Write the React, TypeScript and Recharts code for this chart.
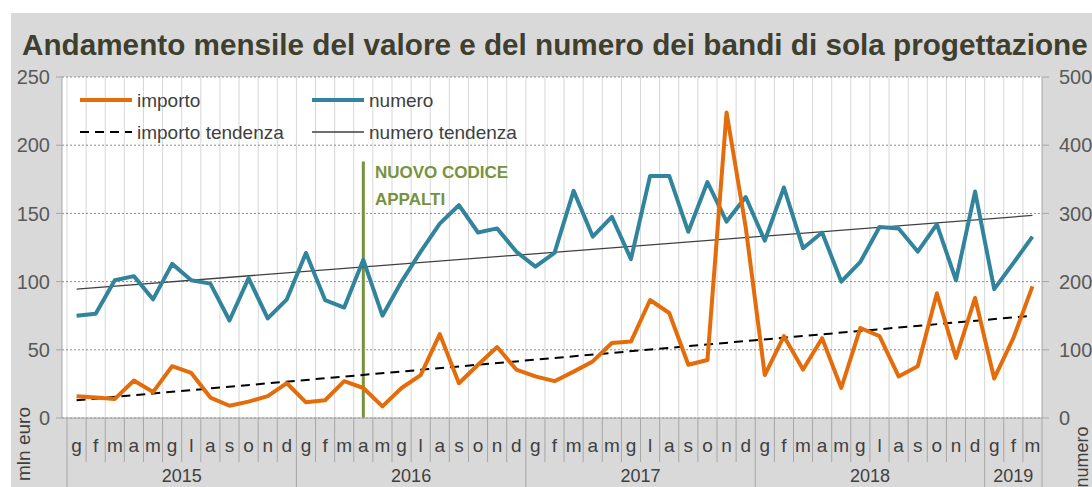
import { LineChart, Line, XAxis, YAxis, CartesianGrid, ReferenceLine } from 'recharts';

// mesi (iniziali italiane) e anni
const MESI = ['g', 'f', 'm', 'a', 'm', 'g', 'l', 'a', 's', 'o', 'n', 'd'];
const ANNI = ['2015', '2016', '2017', '2018', '2019'];
const MESI_PER_ANNO = [12, 12, 12, 12, 3];

// importo (mln euro)
const importo = [
  16, 15, 14, 27.5, 19, 38, 33, 15, 9, 12, 16, 25.5,
  11.5, 13, 27, 22, 8.5, 22, 31.5, 61.5, 25.5, 39, 52, 35.5,
  30.5, 27, 34, 41.5, 55, 56, 86.5, 77, 39, 42.5, 224, 140,
  31.5, 60, 35.5, 58.5, 22, 66, 60, 30.5, 38, 91.5, 44, 88,
  29, 58.5, 96.5,
];

// numero bandi
const numero = [
  150, 153, 202, 208, 174, 226, 202, 197, 143, 205, 146, 174,
  242, 173, 162, 232, 150, 200, 244, 285, 312, 272, 278, 244,
  222, 242, 333, 266, 295, 233, 355, 355, 273, 346, 288, 324,
  260, 338, 249, 272, 200, 229, 280, 278, 244, 284, 202, 332,
  189, 227, 266,
];

// tendenze lineari: valore iniziale e finale
const importoTendenza = [13, 75];
const numeroTendenza = [189, 297];

const ticksSx = [0, 50, 100, 150, 200, 250];
const ticksDx = [0, 100, 200, 300, 400, 500];
const NUOVO_CODICE = '2016-3';

const W = 1092;
const H = 487;
const TOP = 77;
const BOTTOM = 418;
const LEFT = 62;
const RIGHT = 1042;
const PAD = 5;

const periodi: { key: string; anno: number; mese: number }[] = [];
ANNI.forEach((a, ai) => {
  for (let m = 0; m < MESI_PER_ANNO[ai]; m++) periodi.push({ key: `${a}-${m}`, anno: ai, mese: m });
});
const N = periodi.length;
const BW = (RIGHT - LEFT - PAD) / N;

const data = periodi.map((p, i) => ({
  key: p.key,
  importo: importo[i],
  numero: numero[i],
  impTrend: i === 0 ? importoTendenza[0] : i === N - 1 ? importoTendenza[1] : null,
  numTrend: i === 0 ? numeroTendenza[0] : i === N - 1 ? numeroTendenza[1] : null,
}));

const gridX = Array.from({ length: N }, (_, i) => LEFT + PAD + i * BW);

const FONT = '"Liberation Sans", Arial, sans-serif';
const AXIS_COL = '#a6a6a6';

function MonthTick(props: any) {
  const { x, payload } = props;
  const p = periodi.find((q) => q.key === payload.value);
  if (!p) return null;
  const bx = x - BW / 2;
  const isFirst = p.mese === 0;
  const isLast = p.key === periodi[N - 1].key;
  const n = MESI_PER_ANNO[p.anno];
  const showYear = n % 2 === 0 ? p.mese === n / 2 : p.mese === (n - 1) / 2;
  const yearX = n % 2 === 0 ? bx : x;
  return (
    <g>
      <line x1={bx} x2={bx} y1={BOTTOM} y2={isFirst ? H : 462} stroke={AXIS_COL} strokeWidth={1} />
      {isLast && <line x1={x + BW / 2} x2={x + BW / 2} y1={BOTTOM} y2={H} stroke={AXIS_COL} strokeWidth={1} />}
      <text x={x} y={452} textAnchor="middle" fontSize={19} fill="#404040" fontFamily={FONT}>
        {MESI[p.mese]}
      </text>
      {showYear && (
        <text x={yearX} y={482} textAnchor="middle" fontSize={18} fill="#404040" fontFamily={FONT}>
          {ANNI[p.anno]}
        </text>
      )}
    </g>
  );
}

function LegendItem({ x, y, label, color, width, dash }: any) {
  return (
    <g>
      <line x1={x} x2={x + 52} y1={y} y2={y} stroke={color} strokeWidth={width} strokeDasharray={dash} />
      <text x={x + 57} y={y + 7} fontSize={19} fill="#404040" fontFamily={FONT}>
        {label}
      </text>
    </g>
  );
}

export default function App() {
  return (
    <div style={{ position: 'absolute', left: 0, top: 0, width: W, height: H, background: '#fff', overflow: 'hidden' }}>
      <div style={{ position: 'absolute', left: 11, top: 13, width: W - 11, height: H - 13, background: '#d9d9d9' }} />
      <div style={{ position: 'absolute', left: 0, top: 0 }}>
        <LineChart width={W} height={H} data={data} margin={{ top: TOP, right: 0, bottom: 0, left: 0 }}>
          <CartesianGrid
            yAxisId="sx"
            horizontal={false}
            verticalPoints={gridX}
            stroke="#d6d6d6"
            fill="#ffffff"
            fillOpacity={1}
          />
          <CartesianGrid yAxisId="sx" vertical={false} stroke="#8c8c8c" strokeDasharray="2 2" />
          <XAxis
            dataKey="key"
            interval={0}
            height={H - BOTTOM}
            padding={{ left: PAD + BW / 2, right: BW / 2 }}
            tickLine={false}
            axisLine={{ stroke: AXIS_COL }}
            tick={<MonthTick />}
          />
          <YAxis
            yAxisId="sx"
            orientation="left"
            width={LEFT}
            domain={[0, 250]}
            ticks={ticksSx}
            tickSize={6}
            tickMargin={6}
            axisLine={{ stroke: AXIS_COL }}
            tickLine={{ stroke: AXIS_COL }}
            tick={{ fill: '#595959', fontSize: 20, fontFamily: FONT }}
          />
          <YAxis
            yAxisId="dx"
            orientation="right"
            width={W - RIGHT}
            domain={[0, 500]}
            ticks={ticksDx}
            tickSize={7}
            tickMargin={10}
            axisLine={{ stroke: AXIS_COL }}
            tickLine={{ stroke: AXIS_COL }}
            tick={{ fill: '#595959', fontSize: 20, fontFamily: FONT }}
          />
          <ReferenceLine
            yAxisId="sx"
            segment={[
              { x: NUOVO_CODICE, y: 0 },
              { x: NUOVO_CODICE, y: 188 },
            ]}
            stroke="#77933c"
            strokeWidth={3}
            ifOverflow="visible"
          />
          <Line
            yAxisId="sx"
            dataKey="impTrend"
            stroke="#000"
            strokeWidth={2}
            strokeDasharray="9 6"
            dot={false}
            connectNulls
            isAnimationActive={false}
          />
          <Line
            yAxisId="dx"
            dataKey="numTrend"
            stroke="#404040"
            strokeWidth={1.3}
            dot={false}
            connectNulls
            isAnimationActive={false}
          />
          <Line
            yAxisId="dx"
            dataKey="numero"
            stroke="#31849b"
            strokeWidth={4}
            strokeLinejoin="round"
            dot={false}
            isAnimationActive={false}
          />
          <Line
            yAxisId="sx"
            dataKey="importo"
            stroke="#e46c0a"
            strokeWidth={4}
            strokeLinejoin="round"
            dot={false}
            isAnimationActive={false}
          />
        </LineChart>
      </div>
      <svg width={W} height={H} style={{ position: 'absolute', left: 0, top: 0, pointerEvents: 'none' }}>
        <text x={22} y={55} fontSize={29.7} fontWeight="bold" fill="#3f3f2f" fontFamily={FONT}>
          Andamento mensile del valore e del numero dei bandi di sola progettazione
        </text>
        <text transform="translate(30,444) rotate(-90)" textAnchor="middle" fontSize={19} fill="#404040" fontFamily={FONT}>
          mln euro
        </text>
        <text transform="translate(1088,457) rotate(-90)" textAnchor="middle" fontSize={18} fill="#404040" fontFamily={FONT}>
          numero
        </text>
        <LegendItem x={80} y={100} label="importo" color="#e46c0a" width={4} />
        <LegendItem x={312} y={100} label="numero" color="#31849b" width={4} />
        <LegendItem x={80} y={132} label="importo tendenza" color="#000" width={2} dash="9 6" />
        <LegendItem x={312} y={132} label="numero tendenza" color="#404040" width={1.3} />
        <text x={375} y={178} fontSize={17} fontWeight="bold" fill="#77933c" fontFamily={FONT}>
          NUOVO CODICE
        </text>
        <text x={375} y={205} fontSize={17} fontWeight="bold" fill="#77933c" fontFamily={FONT}>
          APPALTI
        </text>
      </svg>
    </div>
  );
}
